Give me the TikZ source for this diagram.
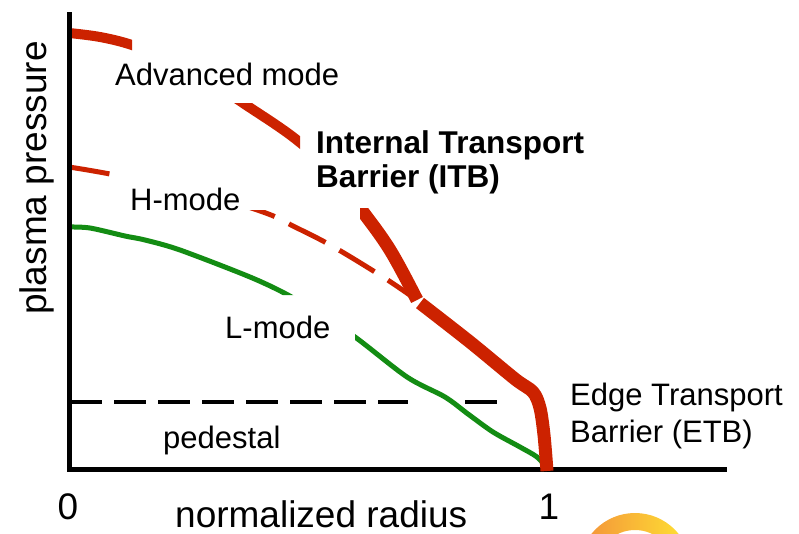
\documentclass[tikz,border=0pt]{standalone}
\usepackage{fontspec}
\setmainfont{Liberation Sans}
\definecolor{itbred}{HTML}{CC2200}
\definecolor{lgreen}{HTML}{138C13}
\definecolor{ringorange}{HTML}{F3903A}
\definecolor{ringyellow}{HTML}{FFE433}
\begin{document}
\begin{tikzpicture}[x=1pt,y=-1pt,
  lbl/.style={font=\fontsize{31}{37}\selectfont, inner sep=0pt, anchor=base west},
  boldlbl/.style={font=\bfseries\fontsize{31.5}{34}\selectfont, inner sep=0pt, anchor=base west},
  axlbl/.style={font=\fontsize{37}{44}\selectfont, inner sep=0pt},
  axisline/.style={line width=5pt, black},
  pedline/.style={line width=4pt, black, dash pattern=on 32pt off 12pt},
  hcurve/.style={itbred, line width=5pt, dash pattern=on 41pt off 16pt},
  lcurve/.style={lgreen, line width=5pt},
]
\useasboundingbox (0,0) rectangle (799,533);
\begin{scope}
\clip (0,0) rectangle (799,533);
% orange ring (partially visible)
\shade[left color=ringorange, right color=ringyellow, even odd rule]
  (635,569) circle[radius=56] (635,569) circle[radius=39];

% L-mode (green)
\begin{scope}[even odd rule]
\clip (0,0) rectangle (799,533) (220,295) rectangle (355,360);
\draw[lcurve] plot[smooth, tension=0.5] coordinates {(69,227) (90,228) (125,236) (145,240) (180,250) (250,277) (288,295) (320,315) (355,337) (407,377) (445,397) (468,414) (493,432) (520,447) (537,457) (547,468)};
\end{scope}

% H-mode (red dashed)
\begin{scope}[even odd rule]
\clip (0,0) rectangle (799,533) (110,150) rectangle (290,210);
\draw[hcurve] plot[smooth, tension=0.6] coordinates {(69,167) (110,174) (190,190) (263,212) (295,227) (332,246) (383,277) (414,298)};
\end{scope}

% Advanced mode (red thick), upper part
\begin{scope}[even odd rule]
\clip (0,0) rectangle (300,533) (132,0) rectangle (293,103);
\draw[itbred, line width=10pt] plot[smooth, tension=0.6] coordinates {(69,33) (100,37) (132,45) (170,60) (210,81) (243,103) (293,137) (330,170) (360,208) (390,250) (417,300)};
\end{scope}
\begin{scope}
\clip (360,208) rectangle (799,533);
\draw[itbred, line width=13pt] plot[smooth, tension=0.6] coordinates {(69,33) (100,37) (132,45) (170,60) (210,81) (243,103) (293,137) (330,170) (360,208) (390,250) (417,300)};
\end{scope}

% pedestal level
\draw[pedline] (70,402) -- (408,402);
\draw[pedline] (465,402) -- (497,402);

% axes
\draw[axisline] (69.5,12) -- (69.5,471.5);
\draw[axisline] (67,469.5) -- (727,469.5);

% shared steep part (ITB + ETB)
\draw[itbred, line width=13pt] plot[smooth, tension=0.5] coordinates {(420,303) (470,342) (515,379) (533,392) (540,408) (544,435) (547,471)};
\end{scope}

% labels
\node[lbl] (adv) at (115,85) {Advanced mode};
\node[lbl] (hm) at (130,210) {H-mode};
\node[boldlbl] (itb1) at (316,153) {Internal Transport};
\node[boldlbl] (itb2) at (316,187) {Barrier (ITB)};
\node[lbl] (lm) at (225,338) {L-mode};
\node[lbl] (ped) at (163,448) {pedestal};
\node[lbl] (etb1) at (570,405) {Edge Transport};
\node[lbl] (etb2) at (570,442) {Barrier (ETB)};
\node[axlbl, rotate=90, anchor=base west] (ylab) at (46,315) {plasma pressure};
\node[axlbl, anchor=base west] (xlab) at (175,527) {normalized radius};
\node[axlbl, anchor=base] (x0) at (68,519) {0};
\node[axlbl, anchor=base] (x1) at (549,519) {1};
\end{tikzpicture}
\end{document}
